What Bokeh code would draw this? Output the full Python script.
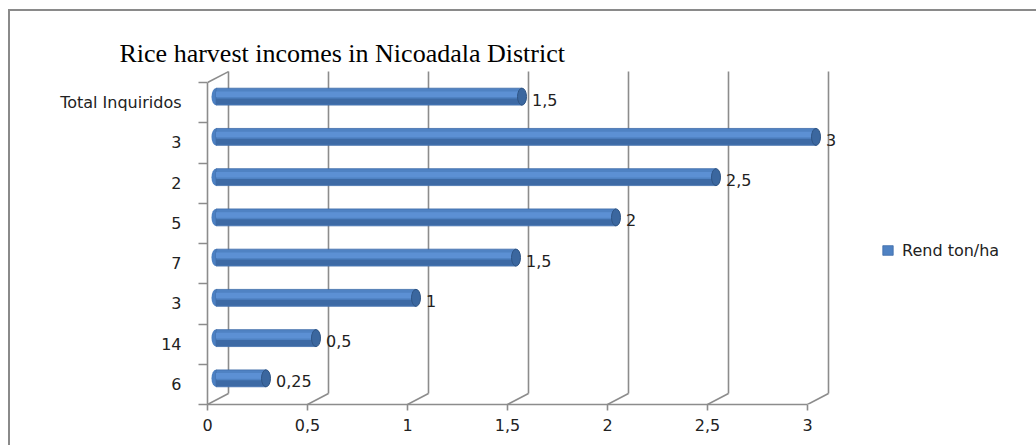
from bokeh.plotting import figure
from bokeh.models import (Range1d, FixedTicker, ColumnDataSource, Legend, LegendItem,
                          InlineStyleSheet)
from bokeh.core.properties import value
from bokeh.embed import file_html
from bokeh.resources import INLINE

# ---- data ----
categories = ["6", "14", "3", "7", "5", "2", "3", "Total Inquiridos"]   # bottom -> top
rend = [0.25, 0.5, 1, 1.5, 2, 2.5, 3, 1.53]
rend_labels = ["0,25", "0,5", "1", "1,5", "2", "2,5", "3", "1,5"]
x_ticks = [0, 0.5, 1, 1.5, 2, 2.5, 3]
x_tick_labels = ["0", "0,5", "1", "1,5", "2", "2,5", "3"]
series_name = "Rend ton/ha"
title_text = "Rice harvest incomes in Nicoadala District"

# ---- style constants (3-D depth offsets in data units) ----
DX, DY = 0.105, 0.273      # back wall offset
BX, BY = 0.0425, 0.15      # bar offset
GRAY = "#8c8c8c"
FONT = "DejaVu Sans"
LBL = "16px"

n = len(categories)
centers = [i + 0.5 for i in range(n)]

css = InlineStyleSheet(css=""":host::after { content: ''; position: absolute; left: 8px; top: 9px;
 width: 1040px; height: 450px; border-top: 2px solid #8a8a8a; border-left: 2px solid #8a8a8a;
 pointer-events: none; box-sizing: border-box; }
:host { overflow: hidden; }""")

p = figure(width=1036, height=445, output_backend="svg", toolbar_location=None,
           x_range=Range1d(0, 4.145), y_range=Range1d(0, 8.3),
           min_border_left=207, min_border_right=0, min_border_top=70, min_border_bottom=41,
           stylesheets=[css])
p.outline_line_color = None
p.xgrid.grid_line_color = None
p.ygrid.grid_line_color = None
p.background_fill_color = "white"
p.border_fill_color = "white"

# title
p.title.text = title_text
p.title.text_font = "Liberation Serif"
p.title.text_font_size = "26px"
p.title.text_font_style = "normal"
p.title.text_color = "black"
p.title.align = "left"
p.title.offset = -88
p.title.standoff = 6

# ---- 3-D walls / gridlines ----
wall = ColumnDataSource(dict(
    x0=[v + DX for v in x_ticks], y0=[DY] * len(x_ticks),
    x1=[v + DX for v in x_ticks], y1=[n + DY] * len(x_ticks)))
p.segment("x0", "y0", "x1", "y1", source=wall, line_color=GRAY, line_width=1.6)
diag = ColumnDataSource(dict(
    x0=x_ticks + [0], y0=[0] * len(x_ticks) + [n],
    x1=[v + DX for v in x_ticks] + [DX], y1=[DY] * len(x_ticks) + [n + DY]))
p.segment("x0", "y0", "x1", "y1", source=diag, line_color=GRAY, line_width=1.6)

# ---- cylinder bars ----
src = ColumnDataSource(dict(
    y=[c + BY for c in centers],
    ylo=[c + BY - 0.12 for c in centers],
    yhi=[c + BY + 0.06 for c in centers],
    left=[BX] * n,
    right=[v + BX for v in rend],
    lab=rend_labels))
p.ellipse(x="left", y="y", width=9, height=17, width_units="screen", height_units="screen",
          source=src, fill_color="#4c80c2", line_color=None)
body = p.hbar(y="y", left="left", right="right", height=0.42, source=src,
              fill_color="#4f82c3", line_color="#3f6ca8", line_width=0.8)
p.hbar(y="ylo", left="left", right="right", height=0.15, source=src,
       fill_color="#3d6aa5", line_color=None)
p.hbar(y="yhi", left="left", right="right", height=0.14, source=src,
       fill_color="#5c90d4", line_color=None)
p.ellipse(x="right", y="y", width=9, height=17, width_units="screen", height_units="screen",
          source=src, fill_color="#3b679f", line_color="#2f5585", line_width=1)

p.text(x="right", y="y", text="lab", source=src, x_offset=10, y_offset=3,
       text_font=value(FONT), text_font_size=LBL, text_color="#222222",
       text_baseline="middle", text_align="left")

# ---- axes ----
xa = p.xaxis[0]
xa.ticker = FixedTicker(ticks=x_ticks)
xa.major_label_overrides = {t: l for t, l in zip(x_ticks, x_tick_labels)}
xa.bounds = (0, 3)
xa.axis_line_color = GRAY
xa.axis_line_width = 1.6
xa.major_tick_line_color = GRAY
xa.major_tick_line_width = 1.6
xa.major_tick_in = 0
xa.major_tick_out = 6
xa.minor_tick_line_color = None
xa.major_label_standoff = 8
xa.major_label_text_font = FONT
xa.major_label_text_font_size = LBL
xa.major_label_text_color = "#222222"

ya = p.yaxis[0]
ya.ticker = FixedTicker(ticks=centers, minor_ticks=list(range(n + 1)))
ya.major_label_overrides = {c: l for c, l in zip(centers, categories)}
ya.bounds = (0, n)
ya.axis_line_color = GRAY
ya.axis_line_width = 1.6
ya.major_tick_line_color = None
ya.major_tick_in = 0
ya.major_tick_out = 9
ya.minor_tick_line_color = GRAY
ya.minor_tick_line_width = 1.6
ya.minor_tick_in = 0
ya.minor_tick_out = 9
ya.major_label_standoff = 17
ya.major_label_text_font = FONT
ya.major_label_text_font_size = LBL
ya.major_label_text_color = "#222222"

# ---- legend ----
legend = Legend(items=[LegendItem(label=series_name, renderers=[body])],
                location=(674, 144), orientation="vertical",
                glyph_width=13, glyph_height=12, label_standoff=8, label_height=20,
                padding=0, margin=0, spacing=0,
                border_line_color=None, background_fill_alpha=0,
                label_text_font=FONT, label_text_font_size=LBL,
                label_text_color="#222222")
p.add_layout(legend)

open("out.html", "w").write(file_html(p, INLINE))
